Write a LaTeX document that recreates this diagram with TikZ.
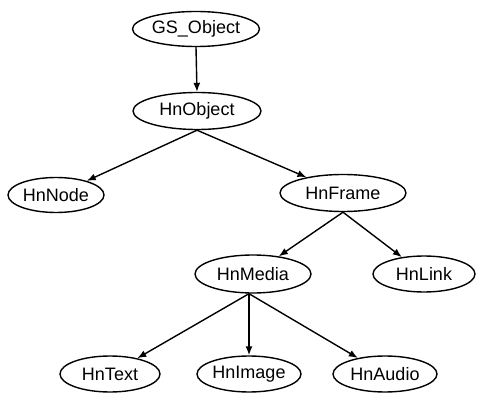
\documentclass[tikz,border=0pt]{standalone}
\usepackage{fontspec}
\setmainfont{Liberation Sans}
\usetikzlibrary{shapes.geometric,arrows.meta}
\begin{document}
\begin{tikzpicture}[x=1pt,y=-1pt,
  cls/.style={draw, ellipse, inner sep=0pt, line width=1.4pt,
    font=\fontsize{18}{21}\selectfont},
  edge/.style={line width=1.4pt, -{Latex[length=9pt,width=7pt]}}]
\useasboundingbox (0,0) rectangle (477,393);
\node[cls, minimum width=127pt, minimum height=35pt] (gs) at (196,29) {GS\_Object};
\node[cls, minimum width=128pt, minimum height=37pt] (ho) at (197,111) {HnObject};
\node[cls, minimum width=96pt, minimum height=35pt] (hn) at (56,195) {HnNode};
\node[cls, minimum width=126pt, minimum height=37pt] (hf) at (343,193) {HnFrame};
\node[cls, minimum width=116pt, minimum height=38pt] (hm) at (253,274) {HnMedia};
\node[cls, minimum width=102pt, minimum height=36pt] (hl) at (424,274) {HnLink};
\node[cls, minimum width=100pt, minimum height=36pt] (ht) at (110,374) {HnText};
\node[cls, minimum width=104pt, minimum height=36pt] (hi) at (249,374) {HnImage};
\node[cls, minimum width=104pt, minimum height=36pt] (ha) at (385,374) {HnAudio};
\coordinate (mb) at ([xshift=-4pt]hm.south);
\draw[edge] (gs.south) -- (ho.north);
\draw[edge] (ho.south) -- (hn);
\draw[edge] (ho.south) -- (hf);
\draw[edge] (hf.south) -- (hm);
\draw[edge] (hf.south) -- (hl);
\draw[edge] (mb) -- (ht);
\draw[edge] (mb) -- (mb |- hi.north);
\draw[edge] (mb) -- (ha);
\end{tikzpicture}
\end{document}
